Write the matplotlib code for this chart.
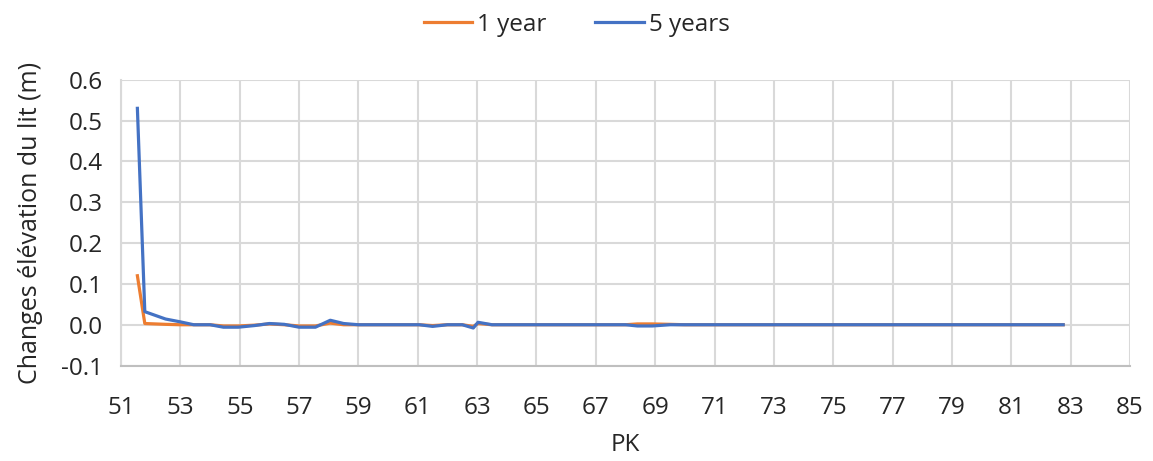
import matplotlib
matplotlib.use("Agg")
import matplotlib.pyplot as plt
from matplotlib.ticker import MultipleLocator, FormatStrFormatter

pk = [51.55, 51.8, 52.5, 53.0, 53.45, 54.0, 54.45, 54.95, 55.5, 56.0, 56.5, 57.0,
      57.55, 58.05, 58.5, 59.0, 59.5, 60.0, 60.5, 61.05, 61.5, 62.0, 62.5, 62.87,
      63.03, 63.5, 64.0, 65.0, 66.0, 67.0, 68.0, 68.4, 68.9, 69.5, 70.0, 71.0,
      72.0, 73.0, 74.0, 75.0, 76.0, 77.0, 78.0, 79.0, 80.0, 81.0, 82.0, 82.75]

year1 = [0.12, 0.003, 0.001, 0.0, 0.0, 0.0, -0.003, -0.003, -0.001, 0.002, 0.0, -0.003,
         -0.003, 0.004, 0.0, 0.0, 0.0, 0.0, 0.0, 0.0, -0.002, 0.0, 0.0, -0.004,
         0.003, 0.0, 0.0, 0.0, 0.0, 0.0, 0.0, 0.002, 0.002, 0.001, 0.0, 0.0,
         0.0, 0.0, 0.0, 0.0, 0.0, 0.0, 0.0, 0.0, 0.0, 0.0, 0.0, 0.0]

year5 = [0.53, 0.032, 0.014, 0.007, 0.0, 0.0, -0.006, -0.006, -0.002, 0.003, 0.001, -0.006,
         -0.006, 0.011, 0.003, 0.0, 0.0, 0.0, 0.0, 0.0, -0.004, 0.0, 0.0, -0.008,
         0.006, 0.0, 0.0, 0.0, 0.0, 0.0, 0.0, -0.003, -0.003, 0.0, 0.0, 0.0,
         0.0, 0.0, 0.0, 0.0, 0.0, 0.0, 0.0, 0.0, 0.0, 0.0, 0.0, 0.0]

xticks = [51, 53, 55, 57, 59, 61, 63, 65, 67, 69, 71, 73, 75, 77, 79, 81, 83, 85]
labels = ["1 year", "5 years"]
colors = ["#ED7D31", "#4472C4"]

plt.rcParams['font.family'] = ['Open Sans', 'DejaVu Sans']

fig = plt.figure(figsize=(11.53, 4.61), dpi=100)
ax = fig.add_axes([0.105, 0.207, 0.875, 0.620])

ax.plot(pk, year1, color=colors[0], lw=2.3, label=labels[0], solid_joinstyle='round')
ax.plot(pk, year5, color=colors[1], lw=2.3, label=labels[1], solid_joinstyle='round')

ax.set_xlim(51, 85)
ax.set_ylim(-0.1, 0.6)
ax.set_xticks(xticks)
ax.yaxis.set_major_locator(MultipleLocator(0.1))
ax.yaxis.set_major_formatter(FormatStrFormatter('%.1f'))
ax.grid(True, color='#D9D9D9', lw=1.5)
ax.set_axisbelow(True)
for s in ['top', 'right']:
    ax.spines[s].set_visible(False)
ax.spines['left'].set_color('#D9D9D9')
ax.spines['left'].set_linewidth(1.5)
ax.spines['bottom'].set_color('#BFBFBF')
ax.spines['bottom'].set_linewidth(1.5)
ax.tick_params(axis='y', length=0, labelsize=17.5, colors='#262626', pad=13)
ax.tick_params(axis='x', length=0, labelsize=17.5, colors='#262626', pad=22)

ax.set_xlabel('PK', fontsize=17.5, color='#262626', labelpad=9)
ax.set_ylabel('Changes élévation du lit (m)', fontsize=18, color='#262626', labelpad=13)

fig.legend(loc='upper center', bbox_to_anchor=(0.5, 1.02), ncol=2, frameon=False,
           fontsize=17.5, handlelength=2.0, handletextpad=0.2, columnspacing=2.0,
           labelcolor='#262626')

fig.savefig('out.png', dpi=100)
